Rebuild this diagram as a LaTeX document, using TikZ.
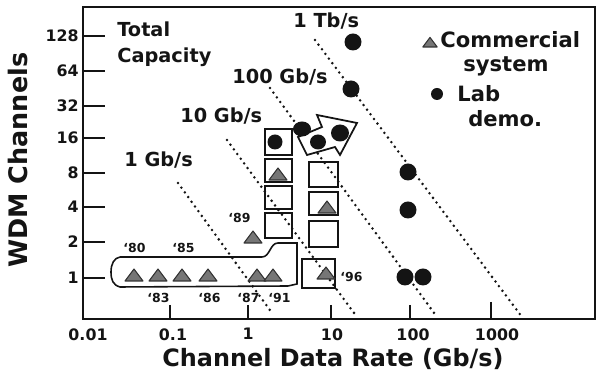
\documentclass[tikz,border=0pt]{standalone}
\usepackage{fontspec}
\setmainfont{DejaVu Sans}
\usepackage{xcolor}
\definecolor{ink}{HTML}{141414}
\definecolor{tri-fill}{HTML}{767676}
\definecolor{tri-edge}{HTML}{333333}

% gray triangle of a commercial system: [scale]{x}{y of base}
\newcommand{\commtri}[3][1]{%
  \filldraw[fill=tri-fill, draw=tri-edge, line width=0.6pt, line join=round]
    (#2-9*#1,#3) -- (#2,#3-12*#1) -- (#2+9*#1,#3) -- cycle;}

\begin{document}
\begin{tikzpicture}[x=0.02cm, y=-0.02cm,
  every node/.style={text=ink, inner sep=0pt},
  ticklbl/.style={font=\fontsize{9}{10}\selectfont\bfseries},
  ratelbl/.style={font=\fontsize{11}{13}\selectfont\bfseries},
  yearlbl/.style={font=\fontsize{7.1}{8}\selectfont\bfseries},
  legtxt/.style={font=\fontsize{12}{14}\selectfont\bfseries},
  axtitle/.style={font=\fontsize{13.6}{16}\selectfont\bfseries},
  capline/.style={draw=ink, dash pattern=on 0pt off 3.3pt, line cap=round, line width=1.6pt},
  cellbox/.style={draw=ink, line width=1.1pt},
  labdot/.style={fill=ink}]
  \useasboundingbox (0,0) rectangle (596,377);

  % frame and ticks
  \draw[ink, line width=1.1pt] (83,7) rectangle (595,319);
  \draw[ink, line width=1.1pt]
    (83,36) -- (105,36)  (83,71) -- (105,71)  (83,106) -- (105,106)  (83,138) -- (105,138)
    (83,173) -- (105,173)  (83,207) -- (105,207)  (83,242) -- (105,242)  (83,278) -- (105,278)
    (170,305) -- (170,319)  (248,305) -- (248,319)  (331,305) -- (331,319)
    (410,305) -- (410,319)  (491,302) -- (491,319);
  \node[ticklbl, anchor=east] (y128) at (79,36) {128};
  \node[ticklbl, anchor=east] (y64) at (79,71) {64};
  \node[ticklbl, anchor=east] (y32) at (79,106) {32};
  \node[ticklbl, anchor=east] (y16) at (79,138) {16};
  \node[ticklbl, anchor=east] (y8) at (79,173) {8};
  \node[ticklbl, anchor=east] (y4) at (79,207) {4};
  \node[ticklbl, anchor=east] (y2) at (79,242) {2};
  \node[ticklbl, anchor=east] (y1) at (79,278) {1};
  \node[ticklbl, anchor=north] (x001) at (88,328) {0.01};
  \node[ticklbl, anchor=north] (x01) at (173,328) {0.1};
  \node[ticklbl, anchor=north] (x1) at (248,328) {1};
  \node[ticklbl, anchor=north] (x10) at (332,328) {10};
  \node[ticklbl, anchor=north] (x100) at (413,328) {100};
  \node[ticklbl, anchor=north] (x1000) at (497,328) {1000};
  \node[axtitle, anchor=base west] (xtitle) at (162,367) {Channel Data Rate (Gb/s)};
  \node[axtitle, font=\fontsize{14.5}{16}\selectfont\bfseries, rotate=90, anchor=base west] (ytitle) at (28,268) {WDM Channels};

  % lines of constant total capacity
  \draw[capline] (178,183) -- (272,313);
  \draw[capline] (227,140) -- (357,317);
  \draw[capline] (270,88) -- (437,317);
  \draw[capline] (315,40) -- (522,317);
  \node[ratelbl, anchor=base west] (tot) at (117,37) {Total};
  \node[ratelbl, anchor=base west] (cap) at (117,63) {Capacity};
  \node[ratelbl, anchor=base west] (r1t) at (293,28) {1 Tb/s};
  \node[ratelbl, anchor=base west] (r100) at (232,84) {100 Gb/s};
  \node[ratelbl, anchor=base west] (r10) at (180,123) {10 Gb/s};
  \node[ratelbl, anchor=base west] (r1) at (124,167) {1 Gb/s};

  % commercial systems
  \draw[ink, line width=0.9pt] (120,257) -- (262,257) .. controls (270,257) and (270,243) .. (278,243)
    -- (297,243) -- (297,284) -- (288,286) -- (120,287)
    .. controls (113,285) and (111,280) .. (111,272) .. controls (111,264) and (114,258) .. (120,257);
  \commtri{134}{281} \commtri{158}{281} \commtri{182}{281} \commtri{208}{281}
  \commtri{257}{281} \commtri{273}{281} \commtri{253}{243}
  \node[yearlbl, anchor=base west] (y80) at (123,253) {‘80};
  \node[yearlbl, anchor=base west] (y85) at (172,253) {‘85};
  \node[yearlbl, anchor=base west] (y83) at (147,303) {‘83};
  \node[yearlbl, anchor=base west] (y86) at (198,303) {‘86};
  \node[yearlbl, anchor=base west] (y87) at (237,303) {‘87};
  \node[yearlbl, anchor=base west] (y91) at (268,303) {‘91};
  \node[yearlbl, anchor=base west] (y89) at (228,223) {‘89};
  \node[yearlbl, anchor=base west] (y96) at (340,282) {‘96};

  % columns of boxes
  \draw[cellbox] (265,129) rectangle (292,155);
  \draw[cellbox] (265,159) rectangle (292,182);
  \draw[cellbox] (265,186) rectangle (292,209);
  \draw[cellbox] (265,213) rectangle (292,238);
  \draw[cellbox] (309,162) rectangle (338,187);
  \draw[cellbox] (309,192) rectangle (338,215);
  \draw[cellbox] (309,221) rectangle (338,247);
  \draw[cellbox] (302,259) rectangle (335,288);
  \commtri{278}{180} \commtri{327}{213} \commtri{326}{279}
  \fill[labdot] (275,142) circle (7.5);

  % arrow and lab demonstrations
  \filldraw[fill=white, draw=ink, line width=1pt]
    (298,137) -- (322,127) -- (317,115) -- (357,123) -- (340,155) -- (335,147) -- (307,155) -- cycle;
  \fill[labdot] (302,129) ellipse [x radius=9, y radius=7.5];
  \fill[labdot] (318,142) ellipse [x radius=8, y radius=7.5];
  \fill[labdot] (340,133) ellipse [x radius=9, y radius=8.5];
  \fill[labdot] (353,42) circle (8.5);
  \fill[labdot] (351,89) circle (8.5);
  \fill[labdot] (408,172) circle (8.5);
  \fill[labdot] (408,210) circle (8.5);
  \fill[labdot] (405,277) circle (8.5);
  \fill[labdot] (423,277) circle (8.5);

  % legend
  \commtri[0.8]{430}{47}
  \node[legtxt, anchor=base west] (leg-comm) at (440,48) {Commercial};
  \node[legtxt, anchor=base west] (leg-sys) at (463,72) {system};
  \fill[labdot] (437,94) circle (6);
  \node[legtxt, anchor=base west] (leg-lab) at (457,102) {Lab};
  \node[legtxt, anchor=base west] (leg-demo) at (468,127) {demo.};
\end{tikzpicture}
\end{document}
